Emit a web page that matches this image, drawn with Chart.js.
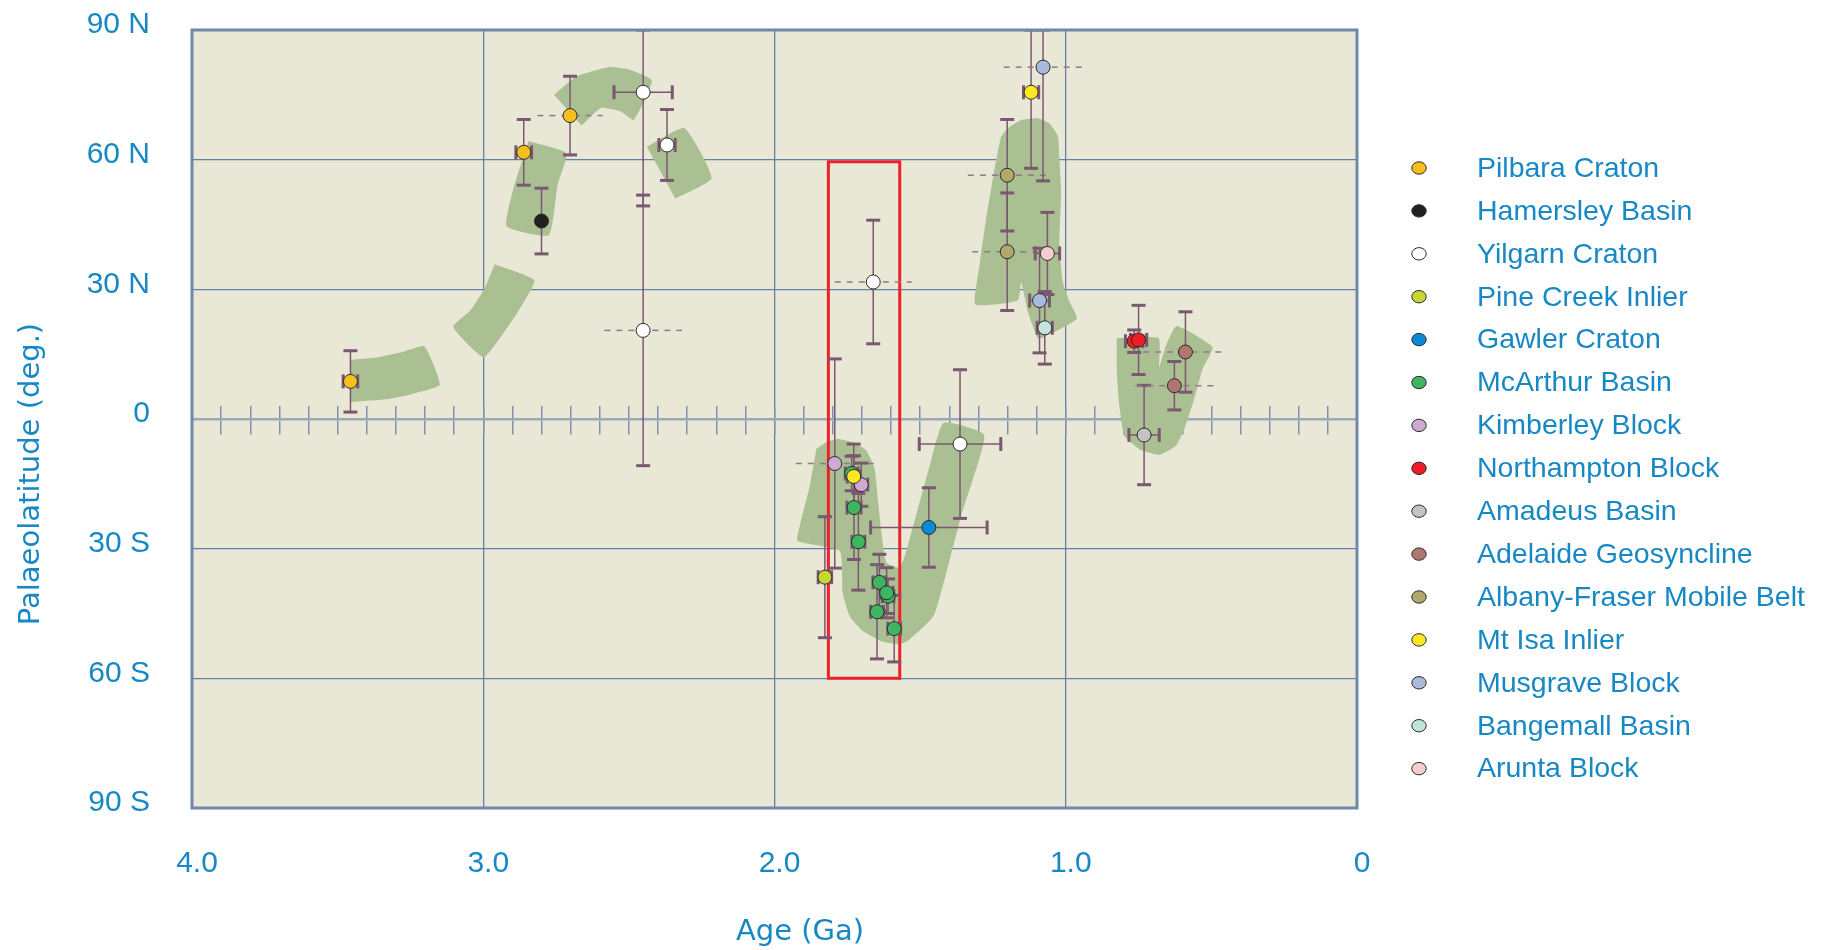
<!DOCTYPE html>
<html>
<head>
<meta charset="utf-8">
<title>Australian palaeolatitude path</title>
<script src="https://cdn.jsdelivr.net/npm/chart.js@4.4.1/dist/chart.umd.min.js"></script>
<style>
  html, body { margin: 0; padding: 0; background: #ffffff; }
  canvas { display: block; }
</style>
</head>
<body>
<canvas id="c" width="1830" height="950"></canvas>
<script>
// Tectonic units, in legend order
const units = [
  'Pilbara Craton', 'Hamersley Basin', 'Yilgarn Craton', 'Pine Creek Inlier',
  'Gawler Craton', 'McArthur Basin', 'Kimberley Block', 'Northampton Block',
  'Amadeus Basin', 'Adelaide Geosyncline', 'Albany-Fraser Mobile Belt',
  'Mt Isa Inlier', 'Musgrave Block', 'Bangemall Basin', 'Arunta Block'
];
const unitColors = [
  '#f6bf1f', '#231f20', '#ffffff', '#c6d633',
  '#0a8ad4', '#3fb562', '#cfa9d0', '#ee1c25',
  '#c3c3c3', '#b27670', '#b1a86c',
  '#fbe821', '#a9badd', '#c3e3dd', '#f5cdcd'
];

// Palaeomagnetic results: unit (index into units), age (Ga),
// palaeolatitude (deg, north positive), latitude error (deg),
// age error (Ga) and whether the age range is drawn dashed
const poleUnit = [
  0, 0, 0, 1,
  2, 2, 2, 2, 2,
  3, 4,
  5, 5, 5, 5, 5, 5, 5, 5,
  6, 6,
  7, 7, 8, 9, 9,
  10, 10, 11, 11,
  12, 12, 13, 14
];
const poleAge = [
  3.456, 2.861, 2.702, 2.80,
  2.451, 2.451, 2.369, 1.661, 1.363,
  1.827, 1.47,
  1.735, 1.727, 1.712, 1.640, 1.610, 1.615, 1.648, 1.589,
  1.793, 1.702,
  0.765, 0.750, 0.731, 0.589, 0.627,
  1.201, 1.201, 1.119, 1.728,
  1.078, 1.090, 1.072, 1.063
];
const poleLat = [
  8.7, 61.7, 70.2, 45.8,
  75.6, 20.5, 63.4, 31.7, -5.8,
  -36.6, -25.1,
  -12.6, -20.5, -28.4, -37.8, -41.0, -40.2, -44.6, -48.5,
  -10.3, -15.2,
  18.0, 18.3, -3.7, 15.5, 7.7,
  56.4, 38.7, 75.6, -13.3,
  81.4, 27.4, 21.1, 38.3
];
const poleLatErr = [
  7.1, 7.6, 9.1, 7.6,
  26.3, 31.3, 8.2, 14.3, 17.2,
  14.0, 9.2,
  4.0, 12.0, 11.2, 6.5, 4.0, 5.8, 10.9, 7.7,
  24.2, 5.0,
  2.6, 8.0, 11.5, 9.3, 5.6,
  12.9, 13.6, 17.6, 7.5,
  26.3, 12.1, 8.4, 9.5
];
const poleAgeErr = [
  0.025, 0.027, 0.112, 0,
  0.10, 0.133, 0.028, 0.132, 0.14,
  0.023, 0.20,
  0.022, 0.024, 0.022, 0.022, 0.02, 0.022, 0.022, 0.022,
  0.134, 0.022,
  0.03, 0.028, 0.052, 0.145, 0.134,
  0.135, 0.12, 0.026, 0.022,
  0.135, 0.034, 0.026, 0.042
];
const poleAgeDashed = [
  false, false, true, false,
  false, true, false, true, false,
  false, false,
  false, false, false, false, false, false, false, false,
  true, false,
  false, false, false, true, true,
  true, true, false, false,
  true, false, false, false
];

// Shaded latitude path, as [age (Ga), latitude] outlines
const swathA = [[3.456, 13.7], [3.36, 14.3], [3.277, 15.5], [3.202, 16.8], [3.149, 7.9],
  [3.244, 5.8], [3.327, 4.6], [3.456, 3.9]];
const swathB = [[2.961, 35.8], [2.825, 32.1], [2.878, 25.1], [2.928, 20.1], [2.998, 14.3],
  [3.103, 21.3], [3.044, 25.1], [2.995, 30.2]];
const swathC = [[2.845, 64.3], [2.715, 61.5], [2.745, 54.1], [2.775, 42.5], [2.92, 44.6],
  [2.895, 53.8]];
const swathD = [[2.757, 75.0], [2.679, 79.3], [2.57, 81.4], [2.496, 80.8], [2.421, 78.3],
  [2.483, 69.2], [2.529, 71.2], [2.595, 72.0], [2.662, 67.9]];
const swathE = [[2.438, 63.0], [2.31, 67.3], [2.216, 55.7], [2.341, 51.0]];
const swathF = [[1.822, -5.3], [1.782, -4.6], [1.73, -5.4], [1.685, -7.3], [1.656, -11.6],
  [1.645, -18.5], [1.633, -26.2], [1.616, -33.2], [1.57, -34.4], [1.549, -30.9],
  [1.508, -20.8], [1.467, -10.8], [1.42, -0.9], [1.28, -3.7], [1.359, -22.4],
  [1.413, -36.3], [1.454, -45.6], [1.536, -51.0], [1.57, -52.1], [1.63, -51.5],
  [1.702, -48.8], [1.742, -45.6], [1.766, -40.1], [1.776, -30.5], [1.921, -28.2],
  [1.913, -24.7], [1.879, -15.5], [1.856, -6.9]];
const swathG = [[1.199, 67.3], [1.153, 69.2], [1.096, 69.6], [1.056, 68.4], [1.027, 65.4],
  [1.022, 60.3], [1.016, 52.6], [1.022, 40.2], [1.01, 31.7], [0.987, 27.1],
  [0.962, 23.2], [1.073, 19.0], [1.096, 18.7], [1.13, 24.8], [1.153, 31.7],
  [1.165, 27.4], [1.31, 26.5], [1.296, 35.6], [1.273, 46.4], [1.25, 55.7],
  [1.233, 61.9], [1.222, 65.4]];
const swathH = [[0.825, 18.7], [0.681, 18.7], [0.679, 12.0], [0.656, 17.0], [0.619, 21.5],
  [0.496, 16.6], [0.53, 11.6], [0.559, 4.6], [0.593, -2.3], [0.622, -6.2],
  [0.679, -8.3], [0.747, -7.0], [0.799, -3.9], [0.816, 3.1], [0.825, 10.8]];
const swaths = [swathA, swathB, swathC, swathD, swathE, swathF, swathG, swathH];

// Time window outlined in red
const windowAges = [1.815, 1.57];
const windowLats = [-60, 59.5];

// Axis ticks
const ageTicks = [0, 1, 2, 3, 4];
const ageLabels = ['0', '1.0', '2.0', '3.0', '4.0'];
const latTicks = [-90, -60, -30, 0, 30, 60, 90];
const latLabels = ['90 S', '60 S', '30 S', '0', '30 N', '60 N', '90 N'];

// ---- styling ----
const TEXT_BLUE = '#1788c4';
const PLOT_BG = '#e9e8d6';
const SWATH_GREEN = '#aabf92';
const GRID_BLUE = '#6680a8';
const FRAME_BLUE = '#7088a9';
const EQUATOR = '#9aa8b9';
const BAR_COLOR = '#7a5870';
const DASH_COLOR = '#93778a';
const SANS = '"Liberation Sans", Arial, sans-serif';
const TICK_FONT = { family: SANS, size: 30 };
const TITLE_FAMILY = '"DejaVu Sans", Verdana, sans-serif';

// ---- datasets ----
const datasets = [];

swaths.forEach((outline, i) => {
  datasets.push({
    kind: 'swath',
    label: 'path ' + (i + 1),
    data: outline.map(([a, l]) => ({ x: a, y: l })),
    showLine: true,
    fill: 'shape',
    backgroundColor: SWATH_GREEN,
    borderWidth: 0,
    borderColor: 'rgba(0,0,0,0)',
    pointRadius: 0,
    tension: 0.15,
    order: 10
  });
});

datasets.push({
  kind: 'window',
  label: 'window',
  data: [
    { x: windowAges[0], y: windowLats[1] }, { x: windowAges[1], y: windowLats[1] },
    { x: windowAges[1], y: windowLats[0] }, { x: windowAges[0], y: windowLats[0] },
    { x: windowAges[0], y: windowLats[1] }, { x: windowAges[1], y: windowLats[1] }
  ],
  showLine: true,
  fill: false,
  borderColor: '#ee2128',
  borderWidth: 3,
  pointRadius: 0,
  order: 5
});

units.forEach((name, u) => {
  const pts = [];
  poleUnit.forEach((pu, i) => { if (pu === u) pts.push({ x: poleAge[i], y: poleLat[i] }); });
  datasets.push({
    kind: 'unit',
    label: name,
    data: pts,
    backgroundColor: unitColors[u],
    borderColor: '#2b2b2b',
    borderWidth: 1,
    pointRadius: 7,
    pointHoverRadius: 7,
    order: name === 'Mt Isa Inlier' ? -1 : 0
  });
});

// ---- drawing helpers ----
function seg(ctx, x1, y1, x2, y2) {
  ctx.beginPath(); ctx.moveTo(x1, y1); ctx.lineTo(x2, y2); ctx.stroke();
}

function drawErrorBars(chart) {
  const { ctx, chartArea: a, scales: { x, y } } = chart;
  const cap = 7;
  ctx.save();
  ctx.beginPath(); ctx.rect(a.left, a.top, a.width, a.height); ctx.clip();
  ctx.lineCap = 'butt';
  for (let i = 0; i < poleAge.length; i++) {
    const px = x.getPixelForValue(poleAge[i]);
    const py = y.getPixelForValue(poleLat[i]);
    const h = poleAgeErr[i];
    if (h > 0) {
      const xl = x.getPixelForValue(poleAge[i] + h);
      const xr = x.getPixelForValue(poleAge[i] - h);
      if (poleAgeDashed[i]) {
        ctx.strokeStyle = DASH_COLOR; ctx.lineWidth = 1.5; ctx.setLineDash([6, 6]);
        seg(ctx, xl, py, xr, py);
        ctx.setLineDash([]);
      } else {
        ctx.strokeStyle = BAR_COLOR; ctx.lineWidth = 1.5;
        seg(ctx, xl, py, xr, py);
        ctx.lineWidth = 3;
        seg(ctx, xl, py - cap, xl, py + cap);
        seg(ctx, xr, py - cap, xr, py + cap);
      }
    }
    const e = poleLatErr[i];
    if (e > 0) {
      const yt = y.getPixelForValue(Math.min(poleLat[i] + e, 90));
      const yb = y.getPixelForValue(Math.max(poleLat[i] - e, -90));
      ctx.strokeStyle = BAR_COLOR; ctx.lineWidth = 1.5;
      seg(ctx, px, yt, px, yb);
      ctx.lineWidth = 3;
      seg(ctx, px - cap, yt, px + cap, yt);
      seg(ctx, px - cap, yb, px + cap, yb);
    }
  }
  ctx.restore();
}

const decorations = {
  id: 'decorations',
  beforeDraw(chart) {
    const { ctx, chartArea: a } = chart;
    ctx.save();
    ctx.fillStyle = '#ffffff';
    ctx.fillRect(0, 0, chart.width, chart.height);
    ctx.fillStyle = PLOT_BG;
    ctx.fillRect(a.left, a.top, a.width, a.height);
    ctx.restore();
  },
  beforeDatasetsDraw(chart) { chart.$barsDone = false; },
  beforeDatasetDraw(chart, args) {
    const ds = chart.data.datasets[args.index];
    if (ds.kind === 'unit' && !chart.$barsDone) {
      chart.$barsDone = true;
      drawErrorBars(chart);
    }
  },
  afterDraw(chart) {
    const { ctx, chartArea: a } = chart;
    ctx.save();
    // plot frame
    ctx.strokeStyle = FRAME_BLUE;
    ctx.lineWidth = 3;
    ctx.strokeRect(a.left, a.top, a.width, a.height);

    // axis titles
    ctx.fillStyle = TEXT_BLUE;
    ctx.font = '29px ' + TITLE_FAMILY;
    ctx.textAlign = 'center';
    ctx.textBaseline = 'alphabetic';
    ctx.fillText('Age (Ga)', 800, 940);

    ctx.save();
    ctx.translate(39, 474);
    ctx.rotate(-Math.PI / 2);
    ctx.font = '29px ' + TITLE_FAMILY;
    ctx.fillText('Palaeolatitude (deg.)', 0, 0);
    ctx.restore();

    // legend
    const rows = chart.data.datasets.filter(d => d.kind === 'unit');
    ctx.font = '28.5px ' + SANS;
    ctx.textAlign = 'left';
    ctx.textBaseline = 'middle';
    rows.forEach((d, i) => {
      const ry = 168 + i * 42.9;
      ctx.beginPath();
      ctx.ellipse(1419, ry, 7.2, 6.2, 0, 0, Math.PI * 2);
      ctx.fillStyle = d.backgroundColor;
      ctx.fill();
      ctx.lineWidth = 1;
      ctx.strokeStyle = '#2b2b2b';
      ctx.stroke();
      ctx.fillStyle = TEXT_BLUE;
      ctx.fillText(d.label, 1477, ry + 1);
    });
    ctx.restore();
  }
};

// ---- chart ----
new Chart(document.getElementById('c'), {
  type: 'scatter',
  data: { datasets },
  options: {
    responsive: false,
    animation: false,
    devicePixelRatio: 1,
    layout: { padding: { top: 30, right: 473, left: 0, bottom: 0 } },
    plugins: { legend: { display: false }, tooltip: { enabled: false } },
    events: [],
    scales: {
      x: {
        type: 'linear',
        position: 'bottom',
        min: 0, max: 4,
        reverse: true,
        afterBuildTicks: (s) => { s.ticks = ageTicks.map(v => ({ value: v })); },
        afterFit: (s) => { s.height = 142; s.paddingLeft = 0; s.paddingRight = 0; },
        ticks: {
          callback: (v) => ageLabels[ageTicks.indexOf(v)],
          font: TICK_FONT, color: TEXT_BLUE, padding: 38, labelOffset: 5,
          maxRotation: 0, autoSkip: false
        },
        grid: { color: GRID_BLUE, lineWidth: 1.3, drawTicks: false },
        border: { display: false }
      },
      y: {
        type: 'linear',
        position: 'left',
        min: -90, max: 90,
        afterBuildTicks: (s) => { s.ticks = latTicks.map(v => ({ value: v })); },
        afterFit: (s) => { s.width = 192; s.paddingTop = 0; s.paddingBottom = 0; },
        ticks: {
          callback: (v) => latLabels[latTicks.indexOf(v)],
          font: TICK_FONT, color: TEXT_BLUE, padding: 42, labelOffset: -5
        },
        grid: {
          color: (c) => (c.tick && c.tick.value === 0) ? 'rgba(0,0,0,0)' : GRID_BLUE,
          lineWidth: 1.3, drawTicks: false
        },
        border: { display: false }
      },
      // equator line with 0.1 Ga tick marks below and above it
      eqBelow: {
        type: 'linear', axis: 'x',
        position: { y: 0 },
        min: 0, max: 4, reverse: true,
        ticks: { display: false, stepSize: 0.1 },
        grid: { drawOnChartArea: false, drawTicks: true, tickLength: 14, color: '#7e92af', lineWidth: 1.5 },
        border: { display: true, color: EQUATOR, width: 2.5 }
      },
      eqAbove: {
        type: 'linear', axis: 'x',
        position: { y: 0 },
        min: 0, max: 4, reverse: true,
        ticks: { display: false, stepSize: 0.1 },
        grid: { drawOnChartArea: false, drawTicks: true, tickLength: -13, color: '#7e92af', lineWidth: 1.5 },
        border: { display: false }
      }
    }
  },
  plugins: [decorations]
});
</script>
</body>
</html>
